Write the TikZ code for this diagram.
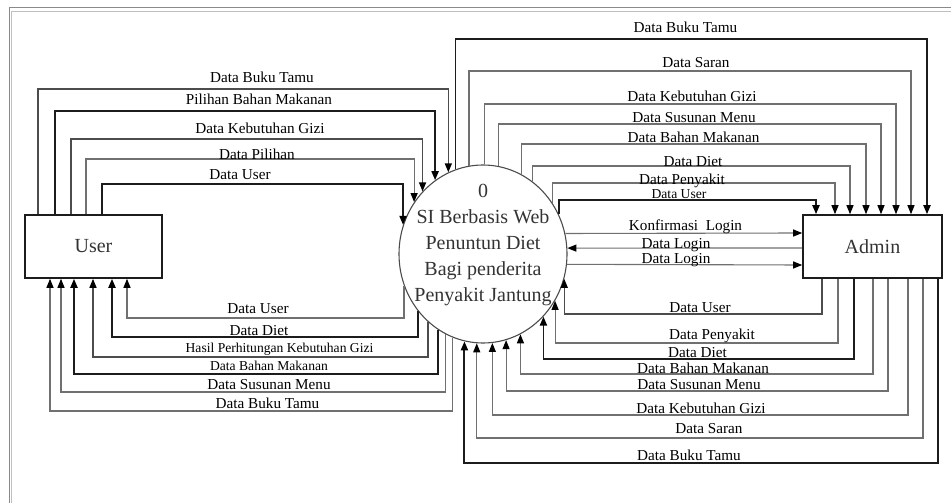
\documentclass[tikz,border=0pt]{standalone}
\usepackage{fontspec}
\setmainfont{Liberation Serif}
\usepackage{tikz}
\usetikzlibrary{arrows.meta,shapes.geometric}
\definecolor{DfdInk}{HTML}{1C1C1C}
\definecolor{DfdGray}{HTML}{707070}
\definecolor{DfdFrame}{HTML}{8A8A8A}

\tikzset{
  >={Triangle[length=9pt,width=7pt,color=black]},
  entity/.style={draw=DfdInk,line width=1.6pt,minimum width=137pt,minimum height=63pt,
    inner sep=0pt,font=\fontsize{20}{22}\selectfont,text=black!80},
  process/.style={ellipse,draw=black!70,line width=1.1pt,minimum width=168pt,
    minimum height=178pt,inner sep=0pt},
  lbl/.style={anchor=base,yshift=-5pt,inner sep=0pt,font=\fontsize{15.2}{17}\selectfont,text=black},
  flowthick/.style={draw=DfdInk,line width=1.9pt,->},
  flowmid/.style={draw=black!70,line width=1.4pt,->},
  flowthin/.style={draw=DfdGray,line width=1.1pt,->},
}

\begin{document}
\begin{tikzpicture}[x=1pt,y=-1pt]
  \useasboundingbox (0,0) rectangle (951,503);
  % frame of the scan
  \draw[DfdFrame,line width=1.3pt] (9.3,503) -- (9.3,7.5) -- (951,7.5);
  \draw[black!25,line width=1.5pt] (11.3,503) -- (11.3,11.5) -- (951,11.5);

  \node[entity] (user) at (93.5,246.5) {User};
  \node[entity,minimum width=139pt] (admin) at (872.5,246.5) {Admin};
  \node[process] (proc) at (483,254) {};
  \node[align=center,font=\fontsize{20}{25.8}\selectfont,text=black!80] (proctext) at (483,245)
    {0\\SI Berbasis Web\\Penuntun Diet\\Bagi penderita\\Penyakit Jantung};

  \def\proca{84.5}\def\procb{89.5}
  \def\lblsmall{\fontsize{13.6}{15}\selectfont}
  % box -> process: style, box anchor, x at box, y of run, x at process, label x, label y, text
  \def\intoproc#1#2#3#4#5#6#7#8{%
    \pgfmathsetmacro\ang{atan2(ifthenelse(#4<254,1,-1)*\procb*sqrt(1-((#5-483)/\proca)^2),#5-483)}
    \draw[#1] (#2 -| #3,0) -- (#3,#4) -| (proc.\ang);
    \node[lbl] (lb#3-#4) at (#6,#7) {#8};
  }
  % process -> box: style, x at process, y of run, x at box, box anchor, label x, label y, text
  \def\outofproc#1#2#3#4#5#6#7#8{%
    \pgfmathsetmacro\ang{atan2(ifthenelse(#3<254,1,-1)*\procb*sqrt(1-((#2-483)/\proca)^2),#2-483)}
    \draw[#1] (proc.\ang) |- (#4,#3) -- (#5 -| #4,0);
    \node[lbl] (lb#4-#3) at (#6,#7) {#8};
  }
  % process <-> admin, straight
  \def\sideflow#1#2#3#4#5#6{%
    \pgfmathsetmacro\ang{atan2(254-#2,\proca*sqrt(1-((254-#2)/\procb)^2))}
    \draw[#1,#3] (proc.\ang) -- (admin.west |- 0,#2);
    \node[lbl] (lbk#2) at (#4,#5) {#6};
  }

  % user to process
  \intoproc{flowmid}{user.north}{38}{89}{448}{262}{78}{Data Buku Tamu}
  \intoproc{flowthick}{user.north}{55}{111}{435}{259}{99}{Pilihan Bahan Makanan}
  \intoproc{flowmid}{user.north}{71}{139}{422}{260}{128}{Data Kebutuhan Gizi}
  \intoproc{flowthin}{user.north}{86}{159}{414}{257}{154}{Data Pilihan}
  \intoproc{flowthick}{user.north}{102}{184}{403}{240}{174}{Data User}

  % process to user
  \outofproc{flowthin}{404}{318}{127}{user.south}{258}{308}{Data User}
  \outofproc{flowthick}{417}{337}{112}{user.south}{259}{330}{Data Diet}
  \outofproc{flowmid}{427}{357}{93}{user.south}{279.5}{347}{\lblsmall Hasil Perhitungan Kebutuhan Gizi}
  \outofproc{flowthick}{437}{374}{74}{user.south}{269}{365}{\lblsmall Data Bahan Makanan}
  \outofproc{flowthin}{445}{392}{61}{user.south}{269}{384}{Data Susunan Menu}
  \outofproc{flowthin}{452}{411}{50}{user.south}{267.5}{403}{Data Buku Tamu}

  % process to admin
  \outofproc{flowthick}{455}{39}{927}{admin.north}{685.5}{28}{Data Buku Tamu}
  \outofproc{flowthin}{469}{71}{911}{admin.north}{696}{63}{Data Saran}
  \outofproc{flowthin}{484}{104}{896}{admin.north}{692}{97}{Data Kebutuhan Gizi}
  \outofproc{flowthin}{498}{124}{881}{admin.north}{694}{117}{Data Susunan Menu}
  \outofproc{flowthin}{521}{144}{866}{admin.north}{693.5}{137}{Data Bahan Makanan}
  \outofproc{flowthin}{531}{166}{850}{admin.north}{693}{161}{Data Diet}
  \outofproc{flowthin}{552}{183}{835}{admin.north}{682}{179}{Data Penyakit}
  \outofproc{flowthick}{558}{200}{816}{admin.north}{679}{193}{\lblsmall Data User}

  \sideflow{flowthin}{233}{->}{685.5}{225}{Konfirmasi~~Login}
  \sideflow{flowthin}{248}{<-}{676}{243}{Data Login}
  \sideflow{flowthin}{265}{->}{676}{258}{Data Login}

  % admin to process
  \intoproc{flowmid}{admin.south}{822}{314}{564}{700}{307}{Data User}
  \intoproc{flowthin}{admin.south}{838}{343}{555}{712}{334}{Data Penyakit}
  \intoproc{flowthick}{admin.south}{854}{359}{543}{697.5}{352}{Data Diet}
  \intoproc{flowthin}{admin.south}{873}{374}{520}{703}{368}{Data Bahan Makanan}
  \intoproc{flowthin}{admin.south}{888}{391}{506}{699}{384}{Data Susunan Menu}
  \intoproc{flowthin}{admin.south}{908}{415}{491}{701}{408}{Data Kebutuhan Gizi}
  \intoproc{flowthin}{admin.south}{923}{438}{476}{709}{428}{Data Saran}
  \intoproc{flowthick}{admin.south}{938}{463}{463}{689}{455}{Data Buku Tamu}
\end{tikzpicture}
\end{document}
